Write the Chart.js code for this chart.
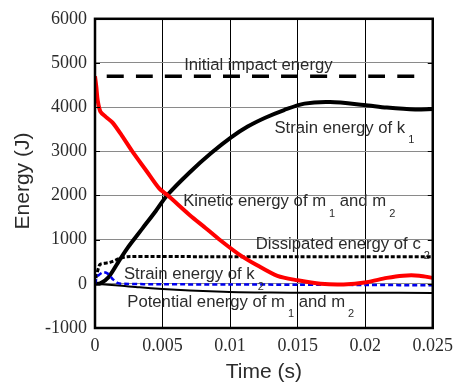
<!DOCTYPE html>
<html>
<head>
<meta charset="utf-8">
<script src="https://cdn.jsdelivr.net/npm/chart.js@4/dist/chart.umd.min.js"></script>
<style>
  html, body { margin: 0; padding: 0; background: #fff; }
  #wrap { width: 460px; height: 389px; }
</style>
</head>
<body>
<div id="wrap"><canvas id="c" width="460" height="389"></canvas></div>
<script>
// ---- data ----
const xTicks = [0, 0.005, 0.01, 0.015, 0.02, 0.025];
const xTickLabels = ["0", "0.005", "0.01", "0.015", "0.02", "0.025"];
const yTicks = [-1000, 0, 1000, 2000, 3000, 4000, 5000, 6000];
const yTickLabels = ["-1000", "0", "1000", "2000", "3000", "4000", "5000", "6000"];

const impactTime = [0, 0.02434];
const impactEnergy = [4700, 4700];

const kineticTime = [0, 0.0001, 0.0002, 0.0004, 0.0008, 0.0013, 0.002, 0.0028, 0.0038, 0.00475, 0.00536, 0.007, 0.0082, 0.0093, 0.0106, 0.012, 0.0135, 0.015, 0.0167, 0.0184, 0.0201, 0.0216, 0.0228, 0.024, 0.025];
const kineticEnergy = [4700, 4450, 4150, 3900, 3780, 3650, 3350, 2980, 2560, 2160, 2010, 1560, 1260, 980, 680, 420, 180, 80, 0, -15, 35, 135, 185, 185, 135];

const strainK1Time = [0, 0.0004, 0.001, 0.0017, 0.0024, 0.0035, 0.0045, 0.00536, 0.007, 0.0086, 0.0101, 0.0113, 0.0126, 0.014, 0.0155, 0.0174, 0.0199, 0.0216, 0.0237, 0.025];
const strainK1Energy = [0, 10, 150, 480, 810, 1250, 1650, 2010, 2520, 2960, 3320, 3560, 3760, 3935, 4080, 4115, 4050, 3990, 3945, 3960];

const dissipC2Time = [0, 0.00005, 0.00012, 0.00024, 0.00037, 0.0007, 0.0011, 0.0018, 0.0024, 0.008, 0.015, 0.025];
const dissipC2Energy = [0, 100, 200, 340, 440, 465, 485, 570, 615, 615, 615, 615];

const strainK2Time = [0, 0.0001, 0.00024, 0.0006, 0.00097, 0.0013, 0.0017, 0.0022, 0.005, 0.01, 0.015, 0.02, 0.025];
const strainK2Energy = [0, 110, 185, 260, 225, 110, 15, 0, -10, -15, -20, -25, -35];

const potentialTime = [0, 0.001, 0.002, 0.0033, 0.005, 0.007, 0.009, 0.0106, 0.013, 0.016, 0.02, 0.025];
const potentialEnergy = [0, -20, -45, -80, -115, -150, -175, -190, -198, -200, -203, -205];

// annotation anchors in data units (left edge, vertical centre of main text)
const labels = [
  { t: 0.0066, e: 4950, parts: [["Initial impact energy", 0]] },
  { t: 0.01328, e: 3518, parts: [["Strain energy of k", 0], ["1", 1]] },
  { t: 0.00653, e: 1863, parts: [["Kinetic energy of m", 0], ["1", 1], [" and m", 0], ["2", 1]] },
  { t: 0.01189, e: 901, parts: [["Dissipated energy of c", 0], ["2", 1]] },
  { t: 0.00214, e: 208, parts: [["Strain energy of k", 0], ["2", 1]] },
  { t: 0.00239, e: -418, parts: [["Potential energy of m", 0], ["1", 1], [" and m", 0], ["2", 1]] }
];

function pts(xs, ys) { return xs.map((x, i) => ({ x: x, y: ys[i] })); }

const TEXT = '#2b2b2b';
const SANS = '"Liberation Sans", Arial, sans-serif';
const SERIF = '"Liberation Serif", "Times New Roman", serif';

const decor = {
  id: 'decor',
  afterDatasetsDraw(chart) {
    const ctx = chart.ctx;
    const xs = chart.scales.x, ys = chart.scales.y;
    const a = chart.chartArea;
    ctx.save();
    // inward y ticks
    ctx.strokeStyle = '#000';
    ctx.lineWidth = 1;
    yTicks.forEach(v => {
      const py = Math.round(ys.getPixelForValue(v)) + 0.5;
      ctx.beginPath(); ctx.moveTo(a.left, py); ctx.lineTo(a.left + 5, py); ctx.stroke();
      ctx.beginPath(); ctx.moveTo(a.right - 5, py); ctx.lineTo(a.right, py); ctx.stroke();
    });
    // frame
    ctx.lineWidth = 2.5;
    ctx.strokeRect(a.left, a.top, a.right - a.left, a.bottom - a.top);
    // annotations
    ctx.fillStyle = TEXT;
    ctx.textBaseline = 'middle';
    ctx.textAlign = 'left';
    labels.forEach(l => {
      let px = xs.getPixelForValue(l.t);
      const py = ys.getPixelForValue(l.e);
      l.parts.forEach(p => {
        if (p[1]) {
          ctx.font = '11px ' + SANS;
          px += 3;
          ctx.fillText(p[0], px, py + 12);
          px += ctx.measureText(p[0]).width;
        } else {
          ctx.font = '16.7px ' + SANS;
          ctx.fillText(p[0], px, py);
          px += ctx.measureText(p[0]).width;
        }
      });
    });
    // axis titles
    ctx.font = '21px ' + SANS;
    ctx.textAlign = 'center';
    ctx.fillText('Time (s)', (a.left + a.right) / 2, 372);
    ctx.save();
    ctx.translate(23, 181);
    ctx.rotate(-Math.PI / 2);
    ctx.fillText('Energy (J)', 0, 0);
    ctx.restore();
    ctx.restore();
  }
};

const common = { pointRadius: 0, fill: false, tension: 0.3 };

new Chart(document.getElementById('c'), {
  type: 'line',
  data: {
    datasets: [
      Object.assign({ label: 'Kinetic energy', data: pts(kineticTime, kineticEnergy), borderColor: '#ff0000', borderWidth: 4, order: 1 }, common),
      Object.assign({ label: 'Strain energy k2', data: pts(strainK2Time, strainK2Energy), borderColor: '#0000ee', borderWidth: 2.5, borderDash: [5, 3], order: 2 }, common),
      Object.assign({ label: 'Strain energy k1', data: pts(strainK1Time, strainK1Energy), borderColor: '#000', borderWidth: 4, order: 3 }, common),
      Object.assign({ label: 'Dissipated c2', data: pts(dissipC2Time, dissipC2Energy), borderColor: '#000', borderWidth: 3, borderDash: [4, 2], order: 4 }, common),
      Object.assign({ label: 'Potential', data: pts(potentialTime, potentialEnergy), borderColor: '#000', borderWidth: 2, order: 5 }, common),
      Object.assign({ label: 'Initial impact', data: pts(impactTime, impactEnergy), borderColor: '#000', borderWidth: 3.5, borderDash: [17, 12], borderDashOffset: 17, order: 6 }, common)
    ]
  },
  options: {
    responsive: false,
    animation: false,
    events: [],
    layout: { padding: { left: 0, right: 23, top: 15, bottom: 0 } },
    plugins: { legend: { display: false }, tooltip: { enabled: false } },
    scales: {
      x: {
        type: 'linear', min: 0, max: 0.025,
        afterBuildTicks: s => { s.ticks = xTicks.map(v => ({ value: v })); },
        afterFit: s => { s.height = 61; },
        ticks: { callback: (v, i) => xTickLabels[i], color: TEXT, font: { family: SERIF, size: 18 }, padding: 7, maxRotation: 0, autoSkip: false },
        grid: { color: '#000', lineWidth: 1, drawTicks: false },
        border: { display: false }
      },
      y: {
        type: 'linear', min: -1000, max: 6000,
        afterBuildTicks: s => { s.ticks = yTicks.map(v => ({ value: v })); },
        afterFit: s => { s.width = 95; },
        ticks: { callback: (v, i) => yTickLabels[i], color: TEXT, font: { family: SERIF, size: 18 }, padding: 8, autoSkip: false },
        grid: { color: '#8a8a8a', lineWidth: 1, drawTicks: false },
        border: { display: false }
      }
    }
  },
  plugins: [decor]
});
</script>
</body>
</html>
